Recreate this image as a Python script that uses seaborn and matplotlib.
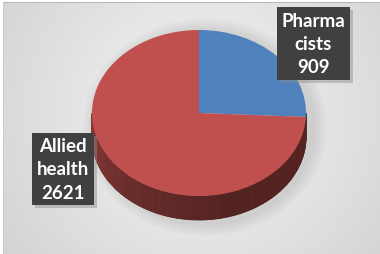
import numpy as np
import matplotlib
matplotlib.use("Agg")
import matplotlib.pyplot as plt
from matplotlib.patches import Rectangle
import seaborn as sns

# data
groups = ["Pharma\ncists", "Allied\nhealth"]
counts = [909, 2621]
colors = ["#4F81BD", "#C0504D"]

sns.set_theme(style="white")
plt.rcParams["font.family"] = ["Lato", "DejaVu Sans"]

W, H = 380, 255
# pie geometry in pixels (centre, radii, side depth)
cx, cy, rx, ry, depth = 199, 114, 107, 83, 24


def px(xp, yp):
    return (xp - cx) / rx, (cy - yp) / ry


fig = plt.figure(figsize=(W / 100, H / 100), dpi=100)
ax = fig.add_axes([0, 0, 1, 1])

# background: radial grey gradient, soft shadow, white margin and frame line
yy, xx = np.mgrid[0:H, 0:W] + 0.5
r = np.sqrt((xx - 200) ** 2 + (yy - 115) ** 2) / 230
bg = 0.965 - 0.13 * r
ed = np.sqrt(((xx - 205) / 112) ** 2 + ((yy - 128) / 100) ** 2)
bg -= 0.09 * np.clip((1.1 - ed) / 0.12, 0, 1)
bg[:3, :] = 1.0
bg[:, :3] = 1.0
bg[3, 3:] = 0.72
bg[3:, 3] = 0.80
img = np.dstack([bg, bg, bg])
x0, x1 = px(0, 0)[0], px(W, 0)[0]
y1, y0 = px(0, 0)[1], px(0, H)[1]
ax.imshow(img, extent=(x0, x1, y0, y1), interpolation="nearest", zorder=0, aspect="auto")

wedges, _ = ax.pie(counts, colors=colors, startangle=90, counterclock=False,
                   radius=1, wedgeprops=dict(linewidth=0, zorder=3))

# side of the 3D pie, only the front half is visible
d = depth / ry
for w, c in zip(wedges, colors):
    base = np.array(matplotlib.colors.to_rgb(c))
    t1, t2 = w.theta1, w.theta2
    for shift in (-360, 0, 360):
        a, b = max(t1 + shift, 180), min(t2 + shift, 360)
        if b <= a:
            continue
        steps = np.linspace(a, b, max(int(b - a), 2) + 1)
        for s0, s1 in zip(steps[:-1], steps[1:]):
            tt = np.radians(np.linspace(s0, s1, 4))
            xs = np.concatenate([np.cos(tt), np.cos(tt[::-1])])
            ys = np.concatenate([np.sin(tt), np.sin(tt[::-1]) - d])
            f = np.interp((s0 + s1) / 2, [180, 230, 290, 360], [0.72, 0.55, 0.42, 0.45])
            col = base * f
            ax.fill(xs, ys, color=col, lw=0.6, ec=col, zorder=2)

ax.set_aspect("auto")
ax.set_xlim(x0, x1)
ax.set_ylim(y0, y1)
ax.axis("off")

# data labels in dark boxes
label_pos = [(313.5, 44.5), (63, 170)]
texts = []
for g, n, (lx, ly) in zip(groups, counts, label_pos):
    tx, ty = px(lx, ly)
    t = ax.text(tx, ty, f"{g}\n{n}", ha="center", va="center", fontsize=13.5,
                fontweight="bold", color="white", linespacing=1.45, zorder=5,
                bbox=dict(boxstyle="square,pad=0.25", fc="#404040", ec="none"))
    texts.append(t)

# drop shadow behind each label box
fig.canvas.draw()
for t in texts:
    bb = t.get_bbox_patch().get_window_extent()
    ax.add_patch(Rectangle((bb.x0 + 3, bb.y0 - 3), bb.width, bb.height,
                           transform=None, fc="#8c8c8c", ec="none", alpha=0.45, zorder=4))

fig.savefig("out.png", dpi=100)
